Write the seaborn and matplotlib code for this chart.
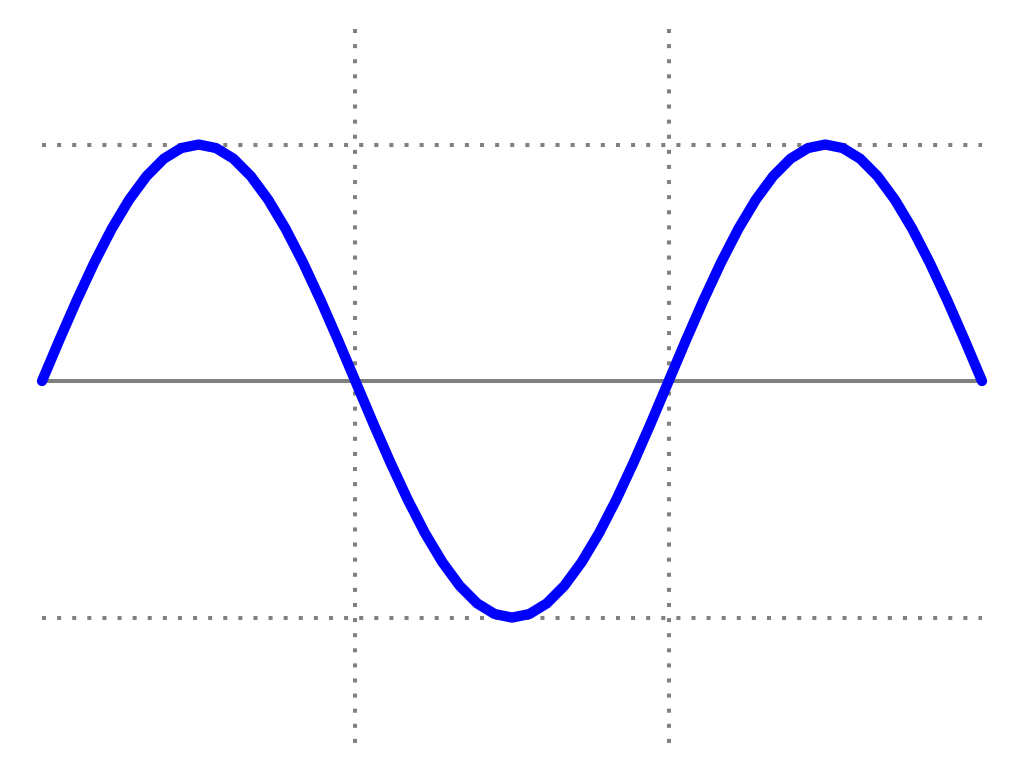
import matplotlib
matplotlib.use("Agg")
import matplotlib.pyplot as plt
import seaborn as sns
import pandas as pd

# wave, every 10 degrees over one and a half periods
angle = [0, 10, 20, 30, 40, 50, 60, 70, 80, 90,
         100, 110, 120, 130, 140, 150, 160, 170, 180,
         190, 200, 210, 220, 230, 240, 250, 260, 270,
         280, 290, 300, 310, 320, 330, 340, 350, 360,
         370, 380, 390, 400, 410, 420, 430, 440, 450,
         460, 470, 480, 490, 500, 510, 520, 530, 540]
value = [0.0, 0.174, 0.342, 0.5, 0.643, 0.766, 0.866, 0.94, 0.985, 1.0,
         0.985, 0.94, 0.866, 0.766, 0.643, 0.5, 0.342, 0.174, 0.0,
         -0.174, -0.342, -0.5, -0.643, -0.766, -0.866, -0.94, -0.985, -1.0,
         -0.985, -0.94, -0.866, -0.766, -0.643, -0.5, -0.342, -0.174, 0.0,
         0.174, 0.342, 0.5, 0.643, 0.766, 0.866, 0.94, 0.985, 1.0,
         0.985, 0.94, 0.866, 0.766, 0.643, 0.5, 0.342, 0.174, 0.0]
vlines_x = [180, 360]
hlines_y = [1, -1]

df = pd.DataFrame({"angle": angle, "value": value})

sns.set_style("white")
fig = plt.figure(figsize=(10.24, 7.68), dpi=100)
ax = fig.add_axes([0, 0, 1, 1])

grey = "#808080"
dots = (0, (1, 2.75))

# zero line
ax.plot([angle[0], angle[-1]], [0, 0], color=grey, lw=2.9, solid_capstyle="butt")
# dotted guides
for y in hlines_y:
    ax.plot([angle[0], angle[-1]], [y, y], color=grey, lw=2.9,
            linestyle=dots, dash_capstyle="butt")
for x in vlines_x:
    ax.plot([x, x], [1.49, -1.53], color=grey, lw=2.9,
            linestyle=dots, dash_capstyle="butt")

sns.lineplot(data=df, x="angle", y="value", ax=ax, color="#0000ff",
             linewidth=7.4, solid_capstyle="round", solid_joinstyle="round")

ax.set_xlim(-24.13, 564.13)
ax.set_ylim(-1.636, 1.611)
ax.axis("off")

fig.savefig("out.png", dpi=100)
